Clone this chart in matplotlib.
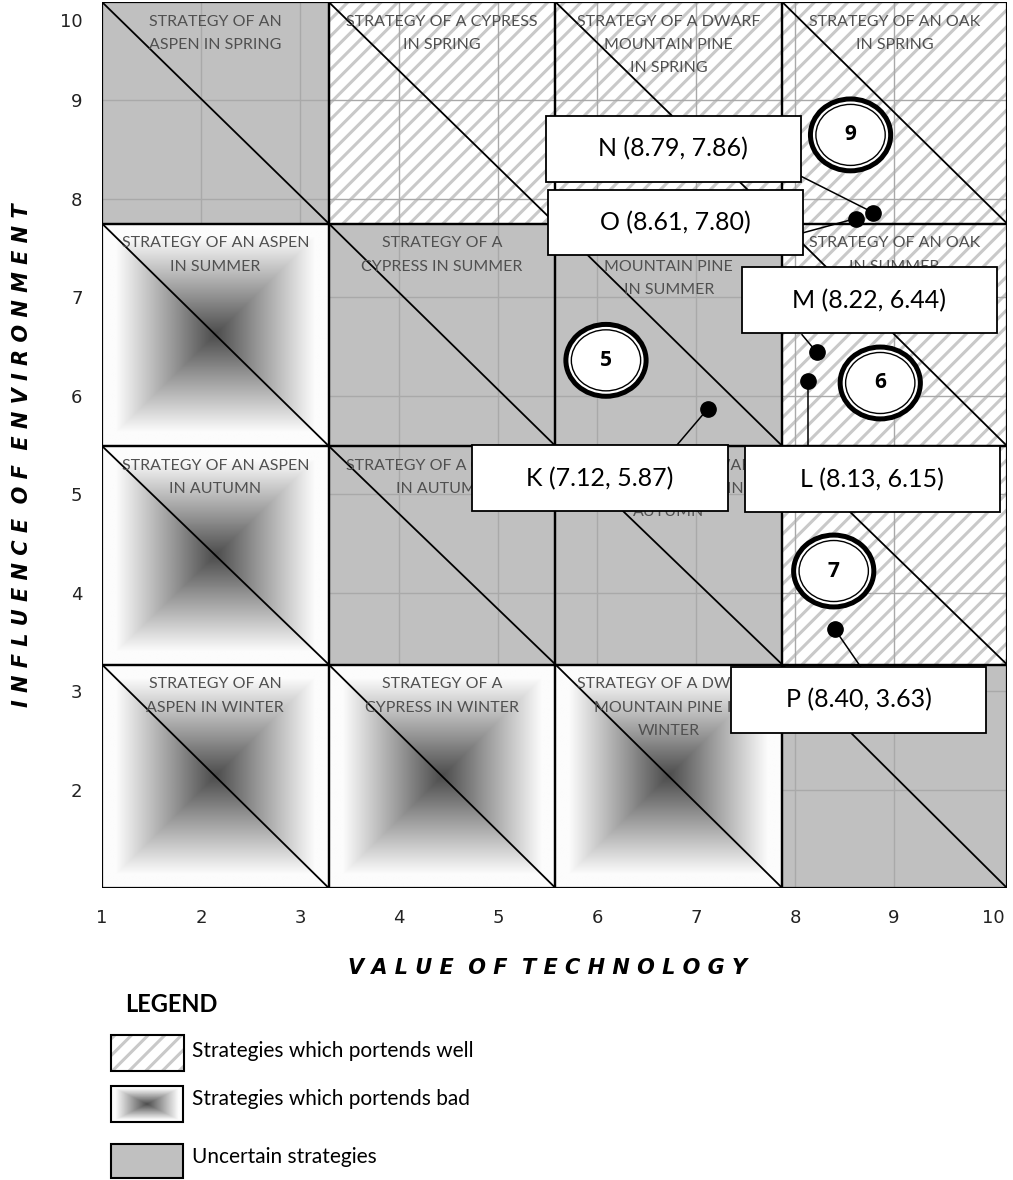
import numpy as np
import matplotlib.pyplot as plt
from matplotlib.patches import Rectangle, Ellipse
from matplotlib.transforms import ScaledTranslation

plt.rcParams['hatch.linewidth'] = 2.2

# --- chart data -------------------------------------------------------
x_ticks = [1, 2, 3, 4, 5, 6, 7, 8, 9, 10]
y_ticks = [2, 3, 4, 5, 6, 7, 8, 9, 10]

# cell boundaries (value of technology / influence of environment)
x_edges = [1, 3.29, 5.58, 7.87, 10.14]
y_edges = [1, 3.27, 5.49, 7.75, 10.0]

# rows bottom -> top: winter, autumn, summer, spring
# G = portends well, B = portends bad, U = uncertain
cell_types = [
    ['B', 'B', 'B', 'U'],
    ['B', 'U', 'U', 'G'],
    ['B', 'U', 'U', 'G'],
    ['U', 'G', 'G', 'G'],
]
cell_titles = [
    ['STRATEGY OF AN\nASPEN IN WINTER', 'STRATEGY OF A\nCYPRESS IN WINTER',
     'STRATEGY OF A DWARF\nMOUNTAIN PINE IN\nWINTER', 'STRATEGY OF AN OAK\nIN WINTER'],
    ['STRATEGY OF AN ASPEN\nIN AUTUMN', 'STRATEGY OF A CYPRESS\nIN AUTUMN',
     'STRATEGY OF A DWARF\nMOUNTAIN PINE IN\nAUTUMN', 'STRATEGY OF AN OAK\nIN AUTUMN'],
    ['STRATEGY OF AN ASPEN\nIN SUMMER', 'STRATEGY OF A\nCYPRESS IN SUMMER',
     'STRATEGY OF A DWARF\nMOUNTAIN PINE\nIN SUMMER', 'STRATEGY OF AN OAK\nIN SUMMER'],
    ['STRATEGY OF AN\nASPEN IN SPRING', 'STRATEGY OF A CYPRESS\nIN SPRING',
     'STRATEGY OF A DWARF\nMOUNTAIN PINE\nIN SPRING', 'STRATEGY OF AN OAK\nIN SPRING'],
]

point_names = ['K', 'L', 'M', 'N', 'O', 'P']
point_x = [7.12, 8.13, 8.22, 8.79, 8.61, 8.40]
point_y = [5.87, 6.15, 6.44, 7.86, 7.80, 3.63]

# label boxes: centre and where the leader line meets the box
box_cx = [6.03, 8.78, 8.75, 6.77, 6.79, 8.64]
box_cy = [5.16, 5.15, 6.97, 8.51, 7.76, 2.91]
lead_x = [6.79, 8.13, 8.07, 8.02, 8.06, 8.66]
lead_y = [5.48, 5.48, 6.62, 8.25, 7.65, 3.25]

circle_labels = ['9', '5', '6', '7']
circle_x = [8.56, 6.09, 8.86, 8.39]
circle_y = [8.65, 6.36, 6.13, 4.22]

legend_items = ['Strategies which portends well',
                'Strategies which portends bad',
                'Uncertain strategies']

GREY = '#c0c0c0'
HATCH = '#c9c9c9'
TEXT_GREY = '#505050'


def square_gradient(nx, ny):
    u = np.linspace(-1, 1, nx)
    v = np.linspace(-1, 1, ny)
    U, V = np.meshgrid(u, v)
    d = np.maximum(np.abs(U), np.abs(V))
    return np.clip(0.3 + 0.78 * d, 0, 0.985)


fig = plt.figure(figsize=(10.13, 11.8), dpi=100)
ax = fig.add_axes([102 / 1013, 1 - 888 / 1180, 905 / 1013, 886 / 1180])

# cells
for r in range(4):
    for c in range(4):
        x0, x1 = x_edges[c], x_edges[c + 1]
        y0, y1 = y_edges[r], y_edges[r + 1]
        kind = cell_types[r][c]
        if kind == 'U':
            ax.add_patch(Rectangle((x0, y0), x1 - x0, y1 - y0, facecolor=GREY,
                                   edgecolor='none', zorder=1))
        elif kind == 'G':
            ax.add_patch(Rectangle((x0, y0), x1 - x0, y1 - y0, facecolor='white',
                                   edgecolor=HATCH, hatch='//', linewidth=0, zorder=1))
        else:
            ax.imshow(square_gradient(200, 200), cmap='gray', vmin=0, vmax=1,
                      extent=[x0, x1, y0, y1], aspect='auto',
                      interpolation='bilinear', zorder=3)
        ax.add_patch(Rectangle((x0, y0), x1 - x0, y1 - y0, fill=False,
                               edgecolor='black', linewidth=1.6, zorder=4))
        ax.plot([x0, x1], [y1, y0], color='black', linewidth=1.3, zorder=4)
        ax.text((x0 + x1) / 2, y1 - 0.13, cell_titles[r][c], ha='center', va='top',
                fontsize=11.5, family='Lato', color=TEXT_GREY, linespacing=1.85,
                zorder=5)

# light grid
for gx in x_ticks[1:-1]:
    ax.plot([gx, gx], [y_edges[0], y_edges[-1]], color='#a9a9a9', lw=1, zorder=2)
for gy in y_ticks[:-1]:
    ax.plot([x_edges[0], x_edges[-1]], [gy, gy], color='#a9a9a9', lw=1, zorder=2)

# numbered circles
for lab, cx, cy in zip(circle_labels, circle_x, circle_y):
    ax.add_patch(Ellipse((cx, cy), 0.81, 0.73, facecolor='white', edgecolor='black',
                         linewidth=3.6, zorder=6))
    ax.add_patch(Ellipse((cx, cy), 0.70, 0.62, facecolor='white', edgecolor='black',
                         linewidth=1.0, zorder=6))
    ax.text(cx, cy, lab, ha='center', va='center', fontsize=15, fontweight='bold',
            family='Open Sans', zorder=7)

# points, leaders and label boxes
bw, bh = 2.58, 0.67
for name, px, py, bx, by, lx, ly in zip(point_names, point_x, point_y,
                                         box_cx, box_cy, lead_x, lead_y):
    ax.plot([px, lx], [py, ly], color='black', lw=1.1, zorder=5)
    ax.add_patch(Rectangle((bx - bw / 2, by - bh / 2), bw, bh, facecolor='white',
                           edgecolor='black', linewidth=1.3, zorder=6))
    ax.text(bx, by, f'{name} ({px:.2f}, {py:.2f})', ha='center', va='center',
            fontsize=18, family='Lato', zorder=7)
ax.plot(point_x, point_y, 'o', color='black', markersize=11, zorder=7)

ax.set_xlim(x_edges[0], x_edges[-1])
ax.set_ylim(y_edges[0], y_edges[-1])
ax.set_xticks(x_ticks)
ax.set_yticks(y_ticks)
ax.tick_params(length=0, labelsize=13, labelcolor='#222222')
ax.tick_params(axis='x', pad=15)
ax.tick_params(axis='y', pad=14)
top_lbl = ax.get_yticklabels()[-1]
top_lbl.set_transform(top_lbl.get_transform()
                      + ScaledTranslation(0, -0.18, fig.dpi_scale_trans))
for s in ax.spines.values():
    s.set_visible(False)

# overlay in pixel coordinates for titles and legend
ov = fig.add_axes([0, 0, 1, 1])
ov.set_xlim(0, 1013)
ov.set_ylim(1180, 0)
ov.axis('off')
ov.patch.set_alpha(0)

ov.text(548, 968, '  '.join(' '.join(w) for w in 'VALUE OF TECHNOLOGY'.split()),
        ha='center', va='center', fontsize=15, fontweight='bold', style='italic')
ov.text(22, 455, '  '.join(' '.join(w) for w in 'INFLUENCE OF ENVIRONMENT'.split()),
        ha='center', va='center', rotation=90, fontsize=15, fontweight='bold',
        style='italic')

ov.text(125, 1005, 'LEGEND', ha='left', va='center', fontsize=17, fontweight='bold',
        family='Lato')
ov.add_patch(Rectangle((111, 1035), 73, 36, facecolor='white', edgecolor=HATCH,
                       hatch='//', linewidth=0))
ov.add_patch(Rectangle((111, 1035), 73, 36, fill=False, edgecolor='black', lw=1.5))
ov.imshow(square_gradient(120, 60), cmap='gray', vmin=0, vmax=1,
          extent=[111, 183, 1122, 1086], aspect='auto', interpolation='bilinear')
ov.add_patch(Rectangle((111, 1086), 72, 36, fill=False, edgecolor='black', lw=1.5))
ov.add_patch(Rectangle((111, 1144), 72, 34, facecolor=GREY, edgecolor='black', lw=1.5))
ov.set_xlim(0, 1013)
ov.set_ylim(1180, 0)
for txt, ty in zip(legend_items, [1051, 1099, 1157]):
    ov.text(192, ty, txt, ha='left', va='center', fontsize=15, family='Lato')

fig.savefig('out.png', dpi=100)
